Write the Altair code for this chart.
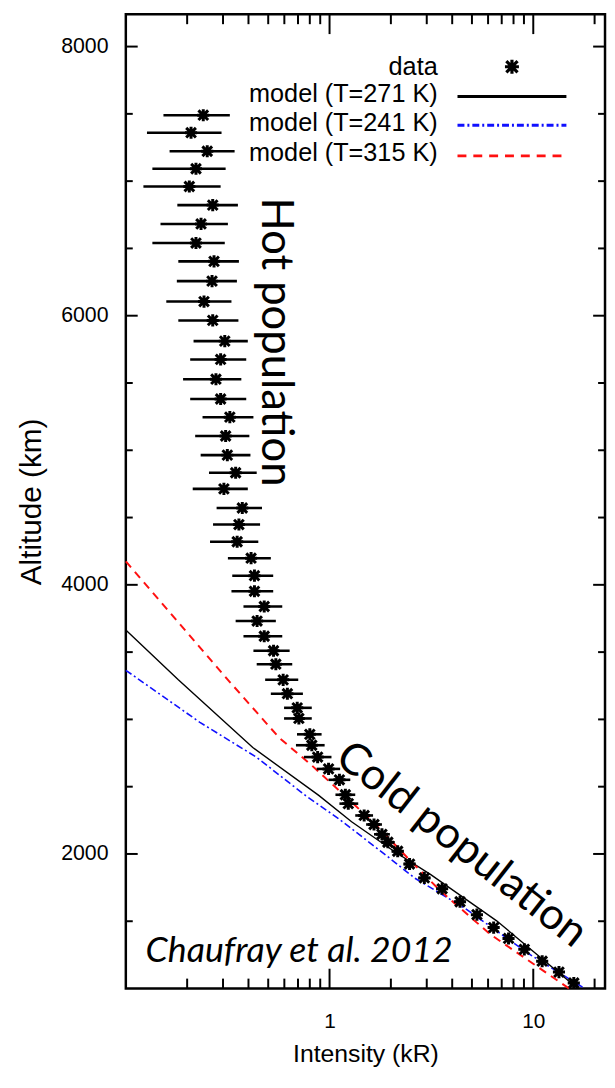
import altair as alt
import pandas as pd

# ---------------- data ----------------
alt_km = [7490, 7360, 7222, 7092, 6960, 6822, 6682, 6540, 6404, 6257,
          6105, 5965, 5811, 5675, 5528, 5381, 5246, 5106, 4964, 4833,
          4713, 4571, 4448, 4320, 4198, 4068, 3952, 3839, 3731, 3618,
          3510, 3410, 3294, 3191, 3086, 3007, 2889, 2808, 2720, 2632,
          2551, 2440, 2374, 2286, 2219, 2146, 2087, 2020, 1925, 1822,
          1741, 1645, 1549, 1453, 1372, 1291, 1203, 1122, 1041]
intensity = [0.240, 0.209, 0.251, 0.221, 0.205, 0.267, 0.234, 0.221, 0.271, 0.265,
             0.242, 0.267, 0.306, 0.292, 0.277, 0.292, 0.324, 0.309, 0.315, 0.346,
             0.303, 0.373, 0.359, 0.352, 0.412, 0.428, 0.428, 0.478, 0.441, 0.478,
             0.531, 0.545, 0.592, 0.621, 0.694, 0.707, 0.800, 0.818, 0.874, 0.989,
             1.118, 1.196, 1.236, 1.479, 1.653, 1.808, 1.933, 2.16, 2.47, 2.92,
             3.57, 4.37, 5.29, 6.39, 7.56, 9.04, 11.06, 13.37, 15.81]
err_lo = [0.153, 0.127, 0.164, 0.135, 0.122, 0.179, 0.148, 0.135, 0.181, 0.178,
          0.158, 0.181, 0.215, 0.207, 0.191, 0.207, 0.238, 0.219, 0.233, 0.256,
          0.213, 0.279, 0.268, 0.259, 0.317, 0.333, 0.330, 0.378, 0.346, 0.378,
          0.423, 0.439, 0.483, 0.515, 0.598, 0.598, 0.692, 0.684, 0.748, 0.865,
          0.989, 1.069, 1.118, 1.337, 1.512, 1.653, 1.79, 2.02, 2.31, 2.73,
          3.38, 4.14, 5.06, 6.11, 7.23, 8.65, 10.57, 12.79, 15.12]
err_hi = [0.324, 0.295, 0.342, 0.309, 0.292, 0.355, 0.317, 0.306, 0.359, 0.351,
          0.330, 0.357, 0.397, 0.390, 0.369, 0.390, 0.423, 0.404, 0.409, 0.439,
          0.397, 0.466, 0.456, 0.447, 0.515, 0.529, 0.529, 0.586, 0.545, 0.586,
          0.637, 0.656, 0.702, 0.740, 0.818, 0.818, 0.914, 0.946, 1.022, 1.127,
          1.264, 1.337, 1.383, 1.635, 1.808, 1.978, 2.09, 2.31, 2.64, 3.13,
          3.78, 4.62, 5.53, 6.69, 7.91, 9.46, 11.56, 13.99, 16.53]

m271_int = [0.1, 0.181, 0.420, 0.885, 1.283, 2.08, 3.14, 6.61, 16.2, 16.6]
m271_alt = [3665, 3294, 2791, 2435, 2239, 2018, 1846, 1503, 1012, 1000]
m241_int = [0.1, 0.231, 0.437, 0.764, 1.106, 1.89, 2.61, 4.57, 9.57, 17.9]
m241_alt = [3365, 2978, 2720, 2433, 2263, 1991, 1822, 1601, 1255, 1000]
m315_int = [0.1, 0.317, 0.565, 0.821, 1.283, 1.794, 2.42, 3.51, 6.14, 15.0]
m315_alt = [4175, 3294, 2865, 2656, 2386, 2177, 1969, 1724, 1404, 1000]

legend_labels = ["data", "model (T=271 K)", "model (T=241 K)", "model (T=315 K)"]
annotations = ["Hot population", "Cold population", "Chaufray et al. 2012"]

x_label_values = [1, 10]
x_major = [1, 10]
x_minor = [0.2, 0.3, 0.4, 0.5, 0.6, 0.7, 0.8, 0.9, 2, 3, 4, 5, 6, 7, 8, 9, 20]
y_major = [2000, 4000, 6000, 8000]
y_minor = [1500, 2500, 3000, 3500, 4500, 5000, 5500, 6500, 7000, 7500]

# ---------------- layout / style ----------------
W, H = 484, 984
FONT = "Liberation Sans"
ANN_FONT = "Lato"
STAR = "M0,-1L0,1M-1,0L1,0M-0.8,-0.8L0.8,0.8M-0.8,0.8L0.8,-0.8"

xscale = alt.Scale(type="log", domain=[0.1, 22.5], nice=False)
yscale = alt.Scale(domain=[1000, 8240], nice=False, zero=False)

df = pd.DataFrame({"alt": alt_km, "I": intensity, "lo": err_lo, "hi": err_hi})

x_axis = alt.Axis(values=x_label_values, format="~g", ticks=False, domain=False, grid=False,
                  labelFont=FONT, labelFontSize=21, labelColor="black", labelPadding=22,
                  title="Intensity (kR)", titleFont=FONT, titleFontSize=25,
                  titleFontWeight="normal", titleColor="black", titlePadding=11)
y_axis = alt.Axis(values=y_major, format="d", ticks=False, domain=False, grid=False,
                  labelFont=FONT, labelFontSize=21.5, labelColor="black", labelPadding=18,
                  title="Altitude (km)", titleFont=FONT, titleFontSize=30,
                  titleFontWeight="normal", titleColor="black", titlePadding=14)

base = alt.Chart(df)

errbars = base.mark_rule(color="black", strokeWidth=2.6).encode(
    x=alt.X("lo:Q", scale=xscale, axis=x_axis),
    x2="hi:Q",
    y=alt.Y("alt:Q", scale=yscale, axis=y_axis),
)
stars = base.mark_point(shape=STAR, size=150, color="black", strokeWidth=3, filled=False, opacity=1).encode(
    x=alt.X("I:Q", scale=xscale),
    y=alt.Y("alt:Q", scale=yscale),
)


def model_line(xs, ys, color, dash, width):
    d = pd.DataFrame({"I": xs, "alt": ys, "o": list(range(len(xs)))})
    kw = dict(color=color, strokeWidth=width)
    if dash:
        kw["strokeDash"] = dash
    return alt.Chart(d).mark_line(**kw).encode(
        x=alt.X("I:Q", scale=xscale),
        y=alt.Y("alt:Q", scale=yscale),
        order="o:Q",
    )


l271 = model_line(m271_int, m271_alt, "black", None, 1.4)
l241 = model_line(m241_int, m241_alt, "#1010ff", [7, 3, 2, 3], 1.6)
l315 = model_line(m315_int, m315_alt, "#ff1010", [8, 6], 2)


def yticks(vals, length, side):
    d = pd.DataFrame({"v": vals})
    if side == "left":
        xv, x2v = 0, length
    else:
        xv, x2v = W, W - length
    return alt.Chart(d).mark_rule(color="black", strokeWidth=2).encode(
        y=alt.Y("v:Q", scale=yscale), x=alt.value(xv), x2=alt.value(x2v))


def xticks(vals, length, side):
    d = pd.DataFrame({"v": vals})
    if side == "top":
        yv, y2v = 0, length
    else:
        yv, y2v = H, H - length
    return alt.Chart(d).mark_rule(color="black", strokeWidth=2).encode(
        x=alt.X("v:Q", scale=xscale), y=alt.value(yv), y2=alt.value(y2v))


ticks = [yticks(y_major, 12, "left"), yticks(y_minor, 7, "left"),
         yticks(y_major, 12, "right"), yticks(y_minor, 7, "right"),
         xticks(x_major, 20, "top"), xticks(x_minor, 10, "top"),
         xticks(x_major, 20, "bottom"), xticks(x_minor, 10, "bottom")]

# ---------------- legend (drawn manually, gnuplot style) ----------------
def leg_text(label, y):
    return alt.Chart(pd.DataFrame({"t": [label]})).mark_text(
        font=FONT, fontSize=25.5, align="right", baseline="alphabetic", color="black"
    ).encode(text="t:N", x=alt.value(315), y=alt.value(y))


def leg_line(y, color, dash, width):
    kw = dict(color=color, strokeWidth=width)
    if dash:
        kw["strokeDash"] = dash
    return alt.Chart(pd.DataFrame({"t": [0]})).mark_rule(**kw).encode(
        x=alt.value(335), x2=alt.value(445), y=alt.value(y))


legend = [
    leg_text(legend_labels[0], 61),
    leg_text(legend_labels[1], 89),
    leg_text(legend_labels[2], 118),
    leg_text(legend_labels[3], 148),
    alt.Chart(pd.DataFrame({"t": [0]})).mark_point(
        shape=STAR, size=200, color="black", strokeWidth=3.2, filled=False, opacity=1
    ).encode(x=alt.value(390), y=alt.value(53)),
    leg_line(83, "black", None, 3),
    leg_line(112, "#1010ff", [7, 3, 2, 3], 3),
    leg_line(143, "#ff1010", [9, 7], 3),
]

# ---------------- annotations ----------------
ann_hot = alt.Chart(pd.DataFrame({"t": [annotations[0]]})).mark_text(
    font=ANN_FONT, fontSize=44, angle=90, align="center", baseline="middle", color="black"
).encode(text="t:N", x=alt.value(151), y=alt.value(331))
ann_cold = alt.Chart(pd.DataFrame({"t": [annotations[1]]})).mark_text(
    font=ANN_FONT, fontSize=44, angle=38, align="center", baseline="middle", color="black"
).encode(text="t:N", x=alt.value(339), y=alt.value(839))
ann_ref = alt.Chart(pd.DataFrame({"t": [annotations[2]]})).mark_text(
    font=ANN_FONT, fontSize=36, fontStyle="italic", align="left", baseline="middle", color="black"
).encode(text="t:N", x=alt.value(20), y=alt.value(946))

chart = alt.layer(
    l241, l271, l315, errbars, stars, *ticks, *legend, ann_hot, ann_cold, ann_ref
).properties(
    width=W, height=H,
    autosize=alt.AutoSizeParams(type="none"),
    padding={"left": 119, "top": 1, "right": 2, "bottom": 82},
    background="white",
).configure_view(
    stroke="black", strokeWidth=2.5
)

chart.save("out.html", embed_options={"renderer": "svg", "actions": False})
